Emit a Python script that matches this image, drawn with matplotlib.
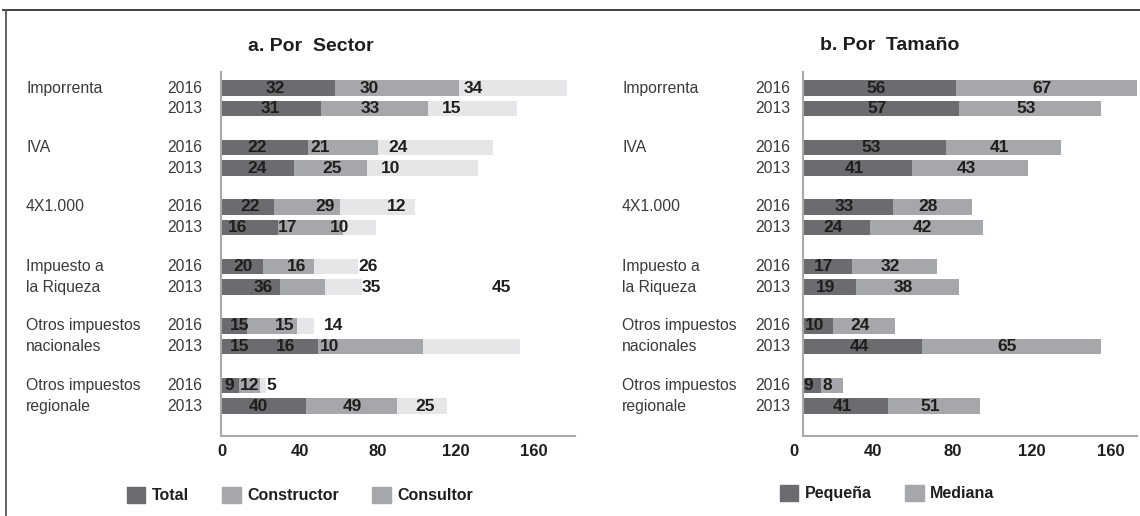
import matplotlib
matplotlib.use("Agg")
import matplotlib.pyplot as plt
from matplotlib import transforms
from matplotlib.patches import Rectangle
from matplotlib.lines import Line2D
import matplotlib.font_manager as fm

# ---- data -------------------------------------------------------------
impuestos = ["Imporrenta", "IVA", "4X1.000", "Impuesto a\nla Riqueza",
             "Otros impuestos\nnacionales", "Otros impuestos\nregionale"]
years = ["2016", "2013"]

# a. Por Sector: segment lengths as drawn (rows: 2016, 2013 for each impuesto)
total_a = [57.9, 50.6, 44.3, 36.9, 26.7, 28.9, 20.9, 29.7, 13.0, 49.4, 8.9, 42.9]
constructor_a = [63.7, 55.2, 35.7, 37.6, 33.8, 33.2, 26.5, 23.1, 25.3, 53.5, 10.6, 47.0]
consultor_a = [55.1, 45.3, 58.8, 56.9, 38.5, 16.8, 22.1, 18.8, 8.9, 49.9, 3.1, 25.3]
# numbers printed on the bars
labels_a = [[32, 30, 34], [31, 33, 15], [22, 21, 24], [24, 25, 10],
            [22, 29, 12], [16, 17, 10], [20, 16, 26], [36, 35, 45],
            [15, 15, 14], [15, 16, 10], [9, 12, 5], [40, 49, 25]]

# b. Por Tamano
pequena_b = [76.8, 78.3, 71.7, 54.7, 44.8, 33.3, 24.1, 26.3, 14.8, 59.7, 8.4, 42.6]
mediana_b = [91.3, 71.7, 57.9, 58.6, 39.9, 56.9, 43.2, 52.0, 31.2, 90.3, 11.1, 46.3]
labels_b = [[56, 67], [57, 53], [53, 41], [41, 43], [33, 28], [24, 42],
            [17, 32], [19, 38], [10, 24], [44, 65], [9, 8], [41, 51]]

ticks = [0, 40, 80, 120, 160]

# ---- layout / style ---------------------------------------------------
# where the printed numbers sit in panel a (they don't follow the segments)
lbl_pos_a = [[27.2, 75.4, 128.7], [25, 75.9, 117.8], [17.8, 50.3, 90.4],
             [18.1, 56.3, 86.2], [14.4, 52.8, 89.6], [8.2, 33.8, 60.5],
             [10.6, 38.3, 75], [21, 76.8, 143.4], [8.9, 32.3, 57.1],
             [9.2, 32.8, 55], [3.7, 14, 25], [18.6, 67, 104.1]]

c_dark = "#6c6c70"
c_mid = "#a6a7aa"
c_light = "#e6e6e8"
c_txt = "#1e1e1e"
c_cat = "#3a3a3a"

names = {f.name for f in fm.fontManager.ttflist}
bold_font = "Liberation Sans Narrow" if "Liberation Sans Narrow" in names else "Liberation Sans"
reg_font = "Liberation Sans"
plt.rcParams["font.family"] = [reg_font, "DejaVu Sans"]

W, H = 1140, 516
fig = plt.figure(figsize=(W / 100, H / 100), dpi=100)

# row positions: one unit per impuesto, 2013 just below 2016
ypos = []
for i in range(len(impuestos)):
    ypos += [i, i + 0.348]
bh = 0.26


def setup(ax, x0, x1):
    ax.set_xlim(x0, x1)
    ax.set_ylim(5.844, -0.269)
    for s in ["top", "right"]:
        ax.spines[s].set_visible(False)
    for s in ["left", "bottom"]:
        ax.spines[s].set_color("#a9a9a9")
        ax.spines[s].set_linewidth(1.5)
    ax.set_yticks([])
    ax.set_xticks(ticks)
    ax.set_xticklabels([str(t) for t in ticks], fontfamily=bold_font,
                       fontweight="bold", fontsize=12, color=c_txt)
    ax.tick_params(axis="x", length=0, pad=6)


def row_text(ax, x_cat, x_year):
    tr = transforms.blended_transform_factory(fig.transFigure, ax.transData)
    for i, name in enumerate(impuestos):
        lines = name.split("\n")
        for j, ln in enumerate(lines):
            ax.text(x_cat, ypos[2 * i + j], ln, transform=tr, ha="left",
                    va="center", fontsize=11.3, color=c_cat)
        for j, yr in enumerate(years):
            ax.text(x_year, ypos[2 * i + j], yr, transform=tr, ha="right",
                    va="center", fontsize=11.3, color=c_cat)


# ---- a. Por Sector ----------------------------------------------------
ax1 = fig.add_axes([220.7 / W, 1 - 435.7 / H, 354.3 / W, 363.7 / H])
setup(ax1, -0.7, 181)
ax1.barh(ypos, total_a, height=bh, color=c_dark)
ax1.barh(ypos, constructor_a, left=total_a, height=bh, color=c_mid)
left3 = [a + b for a, b in zip(total_a, constructor_a)]
ax1.barh(ypos, consultor_a, left=left3, height=bh, color=c_light)
for r, (vals, xs) in enumerate(zip(labels_a, lbl_pos_a)):
    for v, x in zip(vals, xs):
        ax1.text(x, ypos[r], str(v), ha="center", va="center",
                 fontfamily=bold_font, fontweight="bold", fontsize=12.5, color=c_txt)
row_text(ax1, 26 / W, 202 / W)

# ---- b. Por Tamano ----------------------------------------------------
ax2 = fig.add_axes([802.7 / W, 1 - 435.7 / H, 334.3 / W, 363.7 / H])
setup(ax2, -0.7, 168.2)
ax2.barh(ypos, pequena_b, height=bh, color=c_dark)
ax2.barh(ypos, mediana_b, left=pequena_b, height=bh, color=c_mid)
for r, vals in enumerate(labels_b):
    centers = [pequena_b[r] / 2, pequena_b[r] + mediana_b[r] / 2]
    for v, x in zip(vals, centers):
        ax2.annotate(str(v), (x, ypos[r]), xytext=(-3, 0), textcoords="offset points",
                     ha="center", va="center", fontfamily=bold_font,
                     fontweight="bold", fontsize=12.5, color=c_txt)
row_text(ax2, 622 / W, 790 / W)
# the tick numbers of panel b sit a little left of their marks
shift = transforms.ScaledTranslation(-0.1, 0, fig.dpi_scale_trans)
for lab in ax2.get_xticklabels():
    lab.set_transform(lab.get_transform() + shift)

# ---- titles -------------------------------------------------------------
fig.text(311 / W, 1 - 47 / H, "a. Por  Sector", ha="center", va="center",
         fontfamily=bold_font, fontweight="bold", fontsize=14, color=c_txt)
fig.text(890 / W, 1 - 45 / H, "b. Por  Tamaño", ha="center", va="center",
         fontfamily=bold_font, fontweight="bold", fontsize=14, color=c_txt)

# ---- legends ------------------------------------------------------------
leg_kw = dict(frameon=False, borderpad=0, borderaxespad=0, handlelength=1.15,
              handleheight=1.15, handletextpad=0.4, columnspacing=2.1,
              prop={"family": bold_font, "weight": "bold", "size": 11.5})
h_a = [Rectangle((0, 0), 1, 1, color=c) for c in [c_dark, c_mid, c_mid]]
leg1 = fig.legend(h_a, ["Total", "Constructor", "Consultor"], ncol=3,
                  loc="center left", bbox_to_anchor=(127 / W, 1 - 495 / H), **leg_kw)
for t in leg1.get_texts():
    t.set_color(c_txt)
h_b = [Rectangle((0, 0), 1, 1, color=c) for c in [c_dark, c_mid]]
leg2 = fig.legend(h_b, ["Pequeña", "Mediana"], ncol=2,
                  loc="center left", bbox_to_anchor=(780 / W, 1 - 493 / H), **leg_kw)
for t in leg2.get_texts():
    t.set_color(c_txt)

# ---- frame lines --------------------------------------------------------
fig.add_artist(Line2D([3 / W, 1], [1 - 10 / H] * 2, transform=fig.transFigure,
                      color="#333333", lw=1.3))
fig.add_artist(Line2D([6 / W] * 2, [0, 1 - 10 / H], transform=fig.transFigure,
                      color="#555555", lw=1.3))

fig.savefig("out.png", dpi=100)
